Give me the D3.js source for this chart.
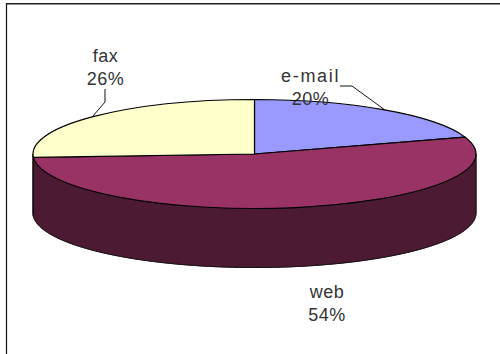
<!DOCTYPE html>
<html><head><meta charset="utf-8">
<script src="https://cdn.jsdelivr.net/npm/d3@7"></script>
<style>html,body{margin:0;padding:0;background:#fff}svg{display:block}text{font-family:"Liberation Sans",sans-serif;font-size:18px;letter-spacing:.5px;fill:#333;text-anchor:middle}</style>
</head><body><svg id="c" width="500" height="354"></svg>
<script>
const categories = ["e-mail","web","fax"];
const values = [20,54,26];
const colors = ["#9999ff","#993366","#ffffcc"];
const wallColor = "#4c1a33";
const percentLabels = ["20%","54%","26%"];

const W=500,H=354,cx=254.5,cy=154,rx=221.5,ry=54.5,depth=59;
const svg=d3.select("#c");
svg.append("rect").attr("width",W).attr("height",H).attr("fill","#fff");
svg.append("line").attr("x1",6.5).attr("x2",6.5).attr("y1",3).attr("y2",H).attr("stroke","#111").attr("stroke-width",1.2);
svg.append("line").attr("x1",6).attr("x2",W).attr("y1",3.8).attr("y2",3.8).attr("stroke","#222").attr("stroke-width",1.6);

const pie=d3.pie().sort(null).value(d=>d)(values);
const pt=(a,dy=0)=>[cx+rx*Math.sin(a),cy-ry*Math.cos(a)+dy];
// side wall: front half of the disc
pie.forEach(s=>{
  const a0=Math.max(s.startAngle,Math.PI/2),a1=Math.min(s.endAngle,Math.PI*1.5);
  if(a1<=a0) return;
  const as=d3.range(a0,a1,0.01).concat([a1]);
  const pts=as.map(a=>pt(a)).concat(as.slice().reverse().map(a=>pt(a,depth)));
  svg.append("path").attr("d",d3.line()(pts)+"Z").attr("fill",wallColor).attr("stroke",wallColor).attr("stroke-width",1);
  svg.append("path").attr("d",d3.line()(as.map(a=>pt(a,depth)))).attr("fill","none").attr("stroke","#111").attr("stroke-width",1);
  svg.append("path").attr("d",d3.line()([pt(a0),pt(a0,depth)])).attr("fill","none").attr("stroke","#111").attr("stroke-width",1);
  svg.append("path").attr("d",d3.line()([pt(a1),pt(a1,depth)])).attr("fill","none").attr("stroke","#111").attr("stroke-width",1);
});
// top
const arc=d3.arc().innerRadius(0).outerRadius(rx);
const g=svg.append("g").attr("transform",`translate(${cx},${cy}) scale(1,${ry/rx})`);
g.selectAll("path").data(pie).join("path").attr("d",arc).attr("fill",(d,i)=>colors[i])
 .attr("stroke","#000").attr("stroke-width",1.2).attr("vector-effect","non-scaling-stroke").attr("stroke-linejoin","round");
// leaders
const lineG=d3.line();
svg.append("path").attr("d",lineG([[340,86],[352,86],[385,110]])).attr("fill","none").attr("stroke","#111");
svg.append("path").attr("d",lineG([[105,89],[105,102],[93,116]])).attr("fill","none").attr("stroke","#111");
// labels
const pos=[[310,82],[327,298],[105.5,61.5]];
pos.forEach(([x,y],i)=>{
  const t=svg.append("text").attr("x",x).attr("y",y).text(categories[i]);
  if(i===0) t.attr("textLength",58).attr("lengthAdjust","spacing");
  svg.append("text").attr("x",x+(i===0?0.5:0)).attr("y",y+23).text(percentLabels[i]);
});
</script></body></html>
